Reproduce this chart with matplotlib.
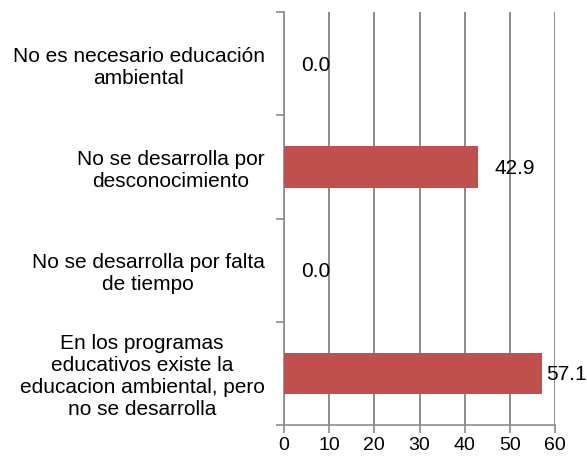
import matplotlib.pyplot as plt
import matplotlib
matplotlib.rcParams['font.family'] = ['Liberation Sans', 'DejaVu Sans']
matplotlib.rcParams['font.size'] = 15

categorias = ["No es necesario educación\nambiental",
              "No se desarrolla por\ndesconocimiento",
              "No se desarrolla por falta\nde tiempo",
              "En los programas\neducativos existe la\neducacion ambiental, pero\nno se desarrolla"]
valores = [0.0, 42.9, 0.0, 57.1]
ticks_x = [0, 10, 20, 30, 40, 50, 60]

fig = plt.figure(figsize=(5.87, 4.59), dpi=100)
ax = fig.add_axes([284/587, 1 - 425/459, (555-284)/587, (425-12)/459])

pos = list(range(len(valores)))
ax.barh(pos, valores, height=0.4, color='#C0504D', zorder=3)
for p, v in zip(pos, valores):
    # etiqueta pegada a la barra si no cabe
    off = 3 if v > 55 else 12
    ax.annotate(f"{v:.1f}", (v, p), xytext=(off, -1), textcoords='offset points',
                va='center', ha='left', zorder=4, fontsize=15)

ax.set_xlim(0, 60)
ax.set_ylim(len(valores) - 0.5, -0.5)
ax.set_xticks(ticks_x)
ax.set_xticklabels([str(t) for t in ticks_x], fontsize=14)
ax.xaxis.grid(True, color='#8c8c8c', linewidth=1.4, zorder=0)

ax.set_yticks(pos)
ax.set_yticklabels(categorias, multialignment='center', fontsize=15)
ax.tick_params(axis='y', length=0, pad=14)
ax.set_yticks([-0.5, 0.5, 1.5, 2.5, 3.5], minor=True)
ax.tick_params(axis='y', which='minor', length=6, color='#8c8c8c', width=1.2)
ax.tick_params(axis='x', length=6, color='#8c8c8c', width=1.2, pad=3)

for s in ['top', 'right']:
    ax.spines[s].set_visible(False)
for s in ['left', 'bottom']:
    ax.spines[s].set_color('#8c8c8c')
    ax.spines[s].set_linewidth(1.2)

plt.savefig('out.png', dpi=100)
